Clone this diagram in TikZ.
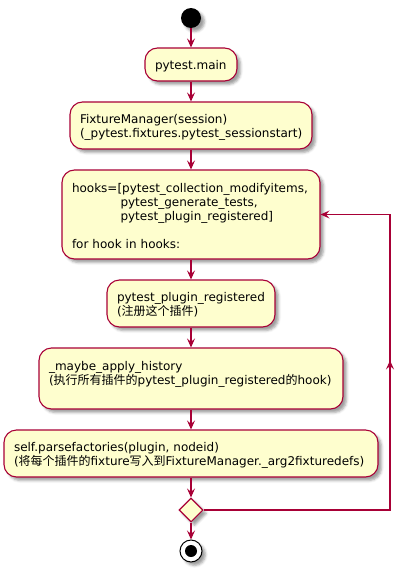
\documentclass[tikz,border=0pt]{standalone}
\usepackage{fontspec}
\setmainfont{DejaVu Sans}
\newfontfamily\cjk{Noto Sans CJK SC}
\usetikzlibrary{arrows.meta,shadows.blur,decorations.markings,shapes.geometric}
\definecolor{pborder}{HTML}{A80036}
\definecolor{pfill}{HTML}{FEFECE}
\begin{document}
\begin{tikzpicture}[x=1pt,y=-1pt,
  shad/.style={blur shadow={shadow xshift=3.5pt, shadow yshift=-3.5pt, shadow blur radius=2.5pt, shadow opacity=38}},
  act/.style={draw=pborder, fill=pfill, line width=1.1pt, rounded corners=12.5pt,
    align=left, inner xsep=10pt, inner ysep=0pt,
    font=\fontsize{12}{14}\selectfont, shad,
    execute at begin node={\rule{0pt}{12.5pt}}},
  arr/.style={draw=pborder, line width=1.1pt, -{Stealth[length=9pt,width=8pt,inset=3.5pt]}},
  loopmark/.style={postaction={decorate}, decoration={markings,
    mark=at position 336pt with {\arrow{Stealth[length=9pt,width=8pt,inset=3.5pt]}}}}
]
\useasboundingbox (0,0) rectangle (401,570);

\node[circle, fill=black, minimum size=20pt, inner sep=0pt, shad] (start) at (191,18) {};

\node[act, text width=72pt, minimum height=33pt] (b1) at (191,64.5) {\mbox{pytest.main}};
\node[act, text width=222pt, minimum height=47pt] (b2) at (191,125.5)
  {\mbox{FixtureManager(session)}\\\mbox{(\_pytest.fixtures.pytest\_sessionstart)}};
\node[act, text width=238pt, minimum height=89pt] (b3) at (191,214.5)
  {\mbox{hooks=[pytest\_collection\_modifyitems,}\\
   \mbox{\hspace*{48.5pt}pytest\_generate\_tests,}\\
   \mbox{\hspace*{48.5pt}pytest\_plugin\_registered]}\\
   \mbox{}\\
   \mbox{for hook in hooks:}};
\node[act, text width=148pt, minimum height=47pt] (b4) at (191,303.5)
  {\mbox{pytest\_plugin\_registered}\\\mbox{({\cjk 注册这个插件})}};
\node[act, text width=284pt, minimum height=61pt] (b5) at (191,378.5)
  {\mbox{\_maybe\_apply\_history}\\
   \mbox{({\cjk 执行所有插件的}pytest\_plugin\_registered{\cjk 的}hook)}\\
   \mbox{}};
\node[act, text width=354pt, minimum height=47pt] (b6) at (191,453.5)
  {\mbox{self.parsefactories(plugin, nodeid)}\\
   \mbox{({\cjk 将每个插件的}fixture{\cjk 写入到}FixtureManager.\_arg2fixturedefs)}};

\node[diamond, draw=pborder, fill=pfill, line width=1.1pt, minimum width=24pt,
  minimum height=24pt, inner sep=0pt, shad] (dia) at (191,510) {};

\node[circle, draw=black, fill=white, line width=1pt, minimum size=22pt, inner sep=0pt, shad] (stop) at (191,551) {};
\node[circle, fill=black, minimum size=12pt, inner sep=0pt] (stopin) at (stop) {};

\draw[arr] (start) -- (b1);
\draw[arr] (b1) -- (b2);
\draw[arr] (b2) -- (b3);
\draw[arr] (b3) -- (b4);
\draw[arr] (b4) -- (b5);
\draw[arr] (b5) -- (b6);
\draw[arr] (b6) -- (dia);
\draw[arr] (dia) -- (stop);

\coordinate (lc1) at (390,510);
\coordinate (lc2) at (390,214.5);
\draw[arr, loopmark] (dia.east) -- (lc1) -- (lc2 |- b3.east) -- (b3.east);
\end{tikzpicture}
\end{document}
